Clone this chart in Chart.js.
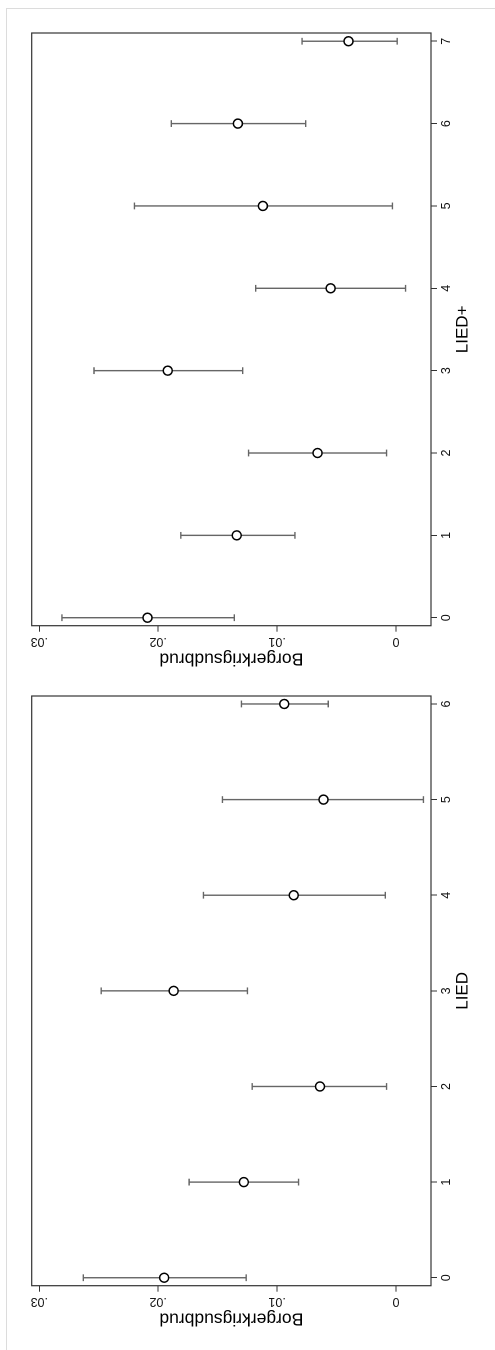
<!DOCTYPE html>
<html>
<head>
<meta charset="utf-8">
<script src="https://cdn.jsdelivr.net/npm/chart.js@4.4.1/dist/chart.umd.min.js"></script>
<style>
  html, body { margin:0; padding:0; background:#fff; overflow:hidden; width:495px; height:1350px; }
  #outer { position:absolute; left:6px; top:8px; width:600px; height:1400px; border-left:1px solid #dcdcdc; border-top:1px solid #dcdcdc; }
  #rot { position:absolute; left:0; top:0; width:1350px; height:495px; transform-origin:0 0; transform:translate(0px,1350px) rotate(-90deg); }
  #rot canvas { position:absolute; top:0; }
</style>
</head>
<body>
<div id="outer"></div>
<div id="rot">
  <canvas id="cA" width="660" height="495" style="left:0px"></canvas>
  <canvas id="cB" width="690" height="495" style="left:660px"></canvas>
</div>
<script>
// ---- data ----
const liedCats = [0, 1, 2, 3, 4, 5, 6];
const liedEst  = [0.0195, 0.0128, 0.0064, 0.0187, 0.0086, 0.0061, 0.0094];
const liedLo   = [0.0126, 0.0082, 0.0008, 0.0125, 0.0009, -0.0023, 0.0057];
const liedHi   = [0.0263, 0.0174, 0.0121, 0.0248, 0.0162, 0.0146, 0.0130];

const lpCats = [0, 1, 2, 3, 4, 5, 6, 7];
const lpEst  = [0.0209, 0.0134, 0.0066, 0.0192, 0.0055, 0.0112, 0.0133, 0.0040];
const lpLo   = [0.0136, 0.0085, 0.0008, 0.0129, -0.0008, 0.0003, 0.0076, -0.0001];
const lpHi   = [0.0281, 0.0181, 0.0124, 0.0254, 0.0118, 0.0220, 0.0189, 0.0079];

const yTickValues = [0, 0.01, 0.02, 0.03];
const yTickLabels = ['0', '.01', '.02', '.03'];
const yTitle = 'Borgerkrigsudbrud';

const FONT = "'Liberation Sans', Arial, sans-serif";

const framePlugin = {
  id: 'frame',
  beforeDatasetsDraw(chart) {
    const a = chart.chartArea, ctx = chart.ctx;
    ctx.save();
    ctx.strokeStyle = '#333';
    ctx.lineWidth = 1.2;
    ctx.strokeRect(a.left, a.top, a.right - a.left, a.bottom - a.top);
    ctx.restore();
  }
};

function makeChart(id, cats, est, lo, hi, xmin, xmax, title, padRight) {
  const errData = [];
  cats.forEach((c, i) => {
    errData.push({x: c, y: lo[i]}, {x: c, y: hi[i]}, {x: c, y: null});
  });
  return new Chart(document.getElementById(id), {
    type: 'scatter',
    data: {
      datasets: [
        {
          data: cats.map((c, i) => ({x: c, y: est[i]})),
          pointStyle: 'circle', pointRadius: 4.5, pointHoverRadius: 4.5,
          pointBorderWidth: 1.5, pointBorderColor: '#000', pointBackgroundColor: '#fff',
          showLine: false, order: 0
        },
        {
          type: 'line',
          data: errData,
          showLine: true, spanGaps: false, fill: false, tension: 0,
          borderColor: '#666', borderWidth: 1.4,
          pointStyle: 'line', pointRadius: 3.4, pointHoverRadius: 3.4,
          pointBorderWidth: 1.4, pointBorderColor: '#666',
          order: 1
        }
      ]
    },
    options: {
      responsive: false, animation: false, devicePixelRatio: 2,
      layout: { padding: { left: 0, right: padRight, top: 31.7, bottom: 0 } },
      plugins: { legend: { display: false }, tooltip: { enabled: false } },
      events: [],
      scales: {
        x: {
          type: 'linear', position: 'bottom', min: xmin, max: xmax,
          afterBuildTicks: s => { s.ticks = cats.map(v => ({value: v})); },
          afterFit: s => { s.height = 64; },
          ticks: { color: '#111', font: { family: FONT, size: 12.5 }, padding: 2.2, maxRotation: 0, autoSkip: false,
                   callback: v => String(v) },
          grid: { drawOnChartArea: false, tickLength: 6, color: '#333', lineWidth: 1 },
          border: { display: false },
          title: { display: true, text: title, color: '#000', font: { family: FONT, size: 17 }, padding: { top: 0, bottom: 22 } }
        },
        y: {
          type: 'linear', position: 'left', min: -0.00294, max: 0.03064,
          afterBuildTicks: s => { s.ticks = yTickValues.map(v => ({value: v})); },
          afterFit: s => { s.width = 64.3; },
          ticks: { color: '#111', font: { family: FONT, size: 12.5 }, padding: 1.0, minRotation: 90, maxRotation: 90,
                   crossAlign: 'center', autoSkip: false,
                   callback: v => { const k = yTickValues.findIndex(t => Math.abs(t - v) < 1e-9); return k >= 0 ? yTickLabels[k] : ''; } },
          grid: { drawOnChartArea: false, tickLength: 6, color: '#333', lineWidth: 1 },
          border: { display: false },
          title: { display: true, text: yTitle, color: '#000', font: { family: FONT, size: 17.5 }, padding: { top: 21.2, bottom: 0 } }
        }
      }
    },
    plugins: [framePlugin]
  });
}

makeChart('cA', liedCats, liedEst, liedLo, liedHi, -1/12, 6 + 1/12, 'LIED', 4);
makeChart('cB', lpCats, lpEst, lpLo, lpHi, -0.097, 7.1, 'LIED+', 33);
</script>
</body>
</html>
